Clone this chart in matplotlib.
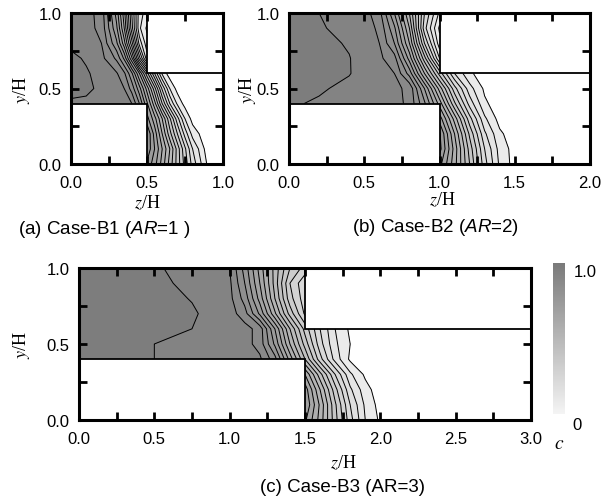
import matplotlib
matplotlib.use('Agg')
import matplotlib.pyplot as plt
import matplotlib as mpl
import numpy as np
from matplotlib.colors import LinearSegmentedColormap, Normalize
from matplotlib.patches import Rectangle
from matplotlib.ticker import MultipleLocator

plt.rcParams['font.family'] = ['Liberation Sans', 'DejaVu Sans']
plt.rcParams['mathtext.fontset'] = 'custom'
plt.rcParams['mathtext.it'] = 'Liberation Sans:italic'
plt.rcParams['mathtext.rm'] = 'Liberation Sans'

nan = np.nan

# rows of the grid (y/H), shared by all panels
y_rows = [0.0, 0.1, 0.2, 0.3, 0.4, 0.5, 0.6, 0.7, 0.8, 0.9, 1.0]

# (a) Case-B1, AR=1 : concentration c
z_a = [0, 0.1, 0.2, 0.3, 0.35, 0.4, 0.45, 0.5, 0.55, 0.6, 0.65, 0.7, 0.75, 0.8, 0.9, 1.0]
c_a = [
    [nan, nan, nan, nan, nan, nan, nan, 0.74, 0.67, 0.58, 0.48, 0.38, 0.28, 0.18, 0.04, 0.0],
    [nan, nan, nan, nan, nan, nan, nan, 0.79, 0.70, 0.60, 0.50, 0.38, 0.26, 0.15, 0.02, 0.0],
    [nan, nan, nan, nan, nan, nan, nan, 0.80, 0.68, 0.55, 0.42, 0.30, 0.18, 0.08, 0.01, 0.0],
    [nan, nan, nan, nan, nan, nan, nan, 0.72, 0.62, 0.50, 0.36, 0.22, 0.10, 0.03, 0.0, 0.0],
    [0.94, 0.94, 0.935, 0.925, 0.915, 0.90, 0.80, 0.66, 0.52, 0.35, 0.20, 0.09, 0.03, 0.01, 0.0, 0.0],
    [0.97, 0.96, 0.94, 0.925, 0.90, 0.83, 0.72, 0.58, 0.42, 0.24, 0.10, 0.03, 0.0, 0.0, 0.0, 0.0],
    [0.965, 0.955, 0.935, 0.905, 0.86, 0.76, 0.60, 0.42, 0.25, 0.09, 0.02, 0.0, 0.0, 0.0, 0.0, 0.0],
    [0.96, 0.945, 0.915, 0.84, 0.74, 0.56, 0.32, 0.12, nan, nan, nan, nan, nan, nan, nan, nan],
    [0.94, 0.93, 0.90, 0.76, 0.62, 0.42, 0.18, 0.07, nan, nan, nan, nan, nan, nan, nan, nan],
    [0.935, 0.92, 0.885, 0.71, 0.55, 0.32, 0.11, 0.04, nan, nan, nan, nan, nan, nan, nan, nan],
    [0.93, 0.92, 0.88, 0.68, 0.52, 0.30, 0.12, 0.08, nan, nan, nan, nan, nan, nan, nan, nan],
]

# (b) Case-B2, AR=2
z_b = [0, 0.2, 0.4, 0.5, 0.6, 0.7, 0.8, 0.9, 1.0, 1.1, 1.2, 1.3, 1.4, 1.5, 1.7, 2.0]
c_b = [
    [nan, nan, nan, nan, nan, nan, nan, nan, 0.72, 0.57, 0.40, 0.22, 0.09, 0.03, 0.0, 0.0],
    [nan, nan, nan, nan, nan, nan, nan, nan, 0.77, 0.58, 0.38, 0.20, 0.08, 0.03, 0.0, 0.0],
    [nan, nan, nan, nan, nan, nan, nan, nan, 0.76, 0.55, 0.34, 0.16, 0.06, 0.02, 0.0, 0.0],
    [nan, nan, nan, nan, nan, nan, nan, nan, 0.68, 0.48, 0.27, 0.11, 0.03, 0.01, 0.0, 0.0],
    [0.955, 0.945, 0.935, 0.93, 0.925, 0.915, 0.89, 0.76, 0.58, 0.36, 0.18, 0.06, 0.02, 0.0, 0.0, 0.0],
    [0.96, 0.955, 0.94, 0.935, 0.925, 0.91, 0.89, 0.70, 0.48, 0.27, 0.12, 0.04, 0.01, 0.0, 0.0, 0.0],
    [0.97, 0.965, 0.952, 0.935, 0.915, 0.90, 0.78, 0.55, 0.33, 0.15, 0.06, 0.02, 0.0, 0.0, 0.0, 0.0],
    [0.97, 0.965, 0.952, 0.93, 0.91, 0.87, 0.68, 0.42, 0.15, nan, nan, nan, nan, nan, nan, nan],
    [0.97, 0.965, 0.945, 0.93, 0.90, 0.80, 0.60, 0.30, 0.07, nan, nan, nan, nan, nan, nan, nan],
    [0.97, 0.955, 0.935, 0.925, 0.89, 0.76, 0.55, 0.22, 0.04, nan, nan, nan, nan, nan, nan, nan],
    [0.965, 0.95, 0.93, 0.92, 0.87, 0.70, 0.50, 0.25, 0.09, nan, nan, nan, nan, nan, nan, nan],
]

# (c) Case-B3, AR=3
z_c = [0, 0.25, 0.5, 0.75, 1.0, 1.1, 1.2, 1.3, 1.4, 1.5, 1.6, 1.7, 1.8, 1.9, 2.0, 2.2, 2.5, 3.0]
c_c = [
    [nan, nan, nan, nan, nan, nan, nan, nan, nan, 0.66, 0.53, 0.37, 0.22, 0.10, 0.04, 0.0, 0.0, 0.0],
    [nan, nan, nan, nan, nan, nan, nan, nan, nan, 0.70, 0.54, 0.36, 0.20, 0.09, 0.03, 0.0, 0.0, 0.0],
    [nan, nan, nan, nan, nan, nan, nan, nan, nan, 0.68, 0.50, 0.32, 0.16, 0.07, 0.02, 0.0, 0.0, 0.0],
    [nan, nan, nan, nan, nan, nan, nan, nan, nan, 0.60, 0.42, 0.25, 0.11, 0.04, 0.01, 0.0, 0.0, 0.0],
    [0.955, 0.955, 0.95, 0.945, 0.935, 0.925, 0.91, 0.82, 0.63, 0.45, 0.27, 0.13, 0.04, 0.01, 0.0, 0.0, 0.0, 0.0],
    [0.96, 0.956, 0.95, 0.945, 0.93, 0.92, 0.88, 0.74, 0.55, 0.38, 0.22, 0.11, 0.05, 0.01, 0.0, 0.0, 0.0, 0.0],
    [0.97, 0.965, 0.96, 0.95, 0.93, 0.92, 0.88, 0.70, 0.50, 0.33, 0.20, 0.10, 0.04, 0.01, 0.0, 0.0, 0.0, 0.0],
    [0.97, 0.97, 0.965, 0.955, 0.925, 0.87, 0.74, 0.56, 0.38, 0.24, nan, nan, nan, nan, nan, nan, nan, nan],
    [0.97, 0.97, 0.965, 0.948, 0.915, 0.83, 0.68, 0.50, 0.32, 0.22, nan, nan, nan, nan, nan, nan, nan, nan],
    [0.97, 0.965, 0.96, 0.94, 0.91, 0.80, 0.65, 0.48, 0.30, 0.21, nan, nan, nan, nan, nan, nan, nan, nan],
    [0.97, 0.965, 0.955, 0.935, 0.90, 0.78, 0.63, 0.48, 0.35, 0.28, nan, nan, nan, nan, nan, nan, nan, nan],
]

fill_levels = np.arange(1, 21) * 0.05
line_levels = np.arange(1, 20) * 0.05
cmap = LinearSegmentedColormap.from_list('gr', ['#f4f4f4', '#7a7a7a'])

W, H = 606, 502
fig = plt.figure(figsize=(W / 100, H / 100), dpi=100)


def px_axes(x0, y0, x1, y1):
    return fig.add_axes([x0 / W, 1 - y1 / H, (x1 - x0) / W, (y1 - y0) / H])


def panel(ax, z, c, zmax, wall):
    Z, Y = np.meshgrid(z, y_rows)
    C = np.ma.masked_invalid(np.array(c, dtype=float))
    ax.contourf(Z, Y, C, levels=fill_levels, cmap=cmap, vmin=0, vmax=1, zorder=1)
    ax.contour(Z, Y, C, levels=line_levels, colors='k', linewidths=0.7, zorder=2)
    ax.add_patch(Rectangle((0, 0), wall, 0.4, fc='white', ec='k', lw=1.3, zorder=2.2))
    ax.add_patch(Rectangle((wall, 0.6), zmax - wall, 0.4, fc='white', ec='k', lw=1.3, zorder=2.2))
    ax.set_xlim(0, zmax)
    ax.set_ylim(0, 1)
    ax.set_axisbelow(False)
    ax.xaxis.set_major_locator(MultipleLocator(0.5))
    ax.xaxis.set_minor_locator(MultipleLocator(0.25))
    ax.yaxis.set_major_locator(MultipleLocator(0.5))
    ax.yaxis.set_minor_locator(MultipleLocator(0.25))
    ax.tick_params(which='both', direction='in', top=True, right=True,
                   length=5.5, width=2, labelsize=12)
    ax.tick_params(axis='x', pad=8)
    ax.tick_params(axis='y', pad=7)
    for s in ax.spines.values():
        s.set_linewidth(2.2)
        s.set_zorder(3)


ax_a = px_axes(71, 14, 223, 165)
panel(ax_a, z_a, c_a, 1.0, 0.5)
ax_b = px_axes(289, 14, 590, 165)
panel(ax_b, z_b, c_b, 2.0, 1.0)
ax_c = px_axes(79, 269, 531, 421)
panel(ax_c, z_c, c_c, 3.0, 1.5)

# colour bar
cax = px_axes(553, 264, 565, 415)
cb = fig.colorbar(mpl.cm.ScalarMappable(norm=Normalize(0, 1), cmap=cmap), cax=cax)
cb.outline.set_visible(False)
cb.set_ticks([])
fig.text(574 / W, 1 - 273 / H, '1.0', fontsize=12, va='center', ha='left')
fig.text(577 / W, 1 - 426 / H, '0', fontsize=12, va='center', ha='center')
fig.text(559 / W, 1 - 445 / H, r'$c$', fontsize=14, va='center', ha='center',
         family='Liberation Serif', math_fontfamily='stix')

# axis labels
for x, y in [(147, 203), (442, 200), (343, 463)]:
    fig.text(x / W, 1 - y / H, r'$z$/H', fontsize=13, ha='center', va='center',
             family='Liberation Serif', math_fontfamily='stix')
for x, y in [(22, 90), (247, 90), (22, 345)]:
    fig.text(x / W, 1 - y / H, r'$y$/H', fontsize=13, ha='center', va='center',
             rotation=90, family='Liberation Serif', math_fontfamily='stix')

# captions
fig.text(104 / W, 1 - 229 / H, '(a) Case-B1 ($AR$=1 )', fontsize=13.5, ha='center', va='center')
fig.text(436 / W, 1 - 228 / H, '(b) Case-B2 ($AR$=2)', fontsize=13.5, ha='center', va='center')
fig.text(343 / W, 1 - 488 / H, '(c) Case-B3 (AR=3)', fontsize=13.5, ha='center', va='center')

fig.savefig('out.png', dpi=100)
